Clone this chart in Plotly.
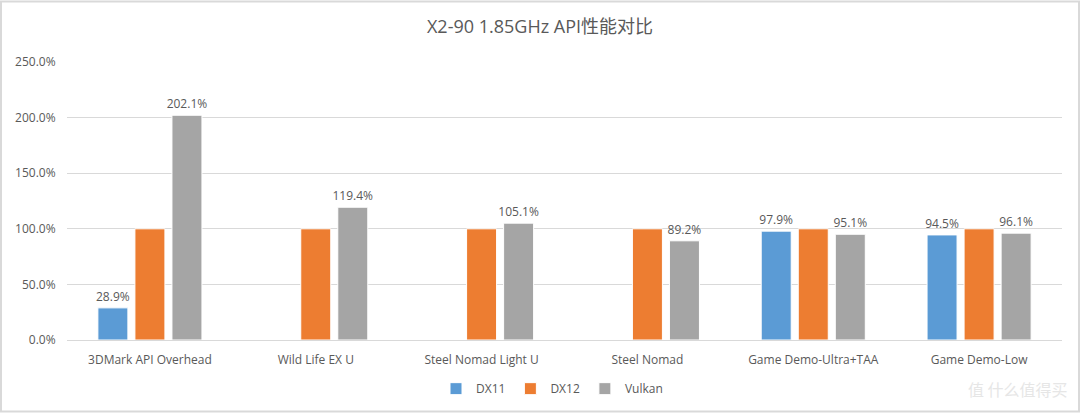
import plotly.graph_objects as go

categories = ["3DMark API Overhead", "Wild Life EX U", "Steel Nomad Light U",
              "Steel Nomad", "Game Demo-Ultra+TAA", "Game Demo-Low"]
dx11 = [28.9, None, None, None, 97.9, 94.5]
dx12 = [100.0, 100.0, 100.0, 100.0, 100.0, 100.0]
vulkan = [202.1, 119.4, 105.1, 89.2, 95.1, 96.1]
y_ticks = [0, 50, 100, 150, 200, 250]
y_tick_labels = ["0.0%", "50.0%", "100.0%", "150.0%", "200.0%", "250.0%"]

W, H = 1080, 415
ML, MR, MT, MB = 67, 18, 62, 73
PW, PH = W - ML - MR, H - MT - MB

FONT = "Open Sans"
TXT = "#595959"

def labels(vals, show=True):
    return [("" if (v is None or not show) else f"{v:.1f}%") for v in vals]

fig = go.Figure()
for name, vals, color, show in [("DX11", dx11, "#5B9BD5", True),
                                ("DX12", dx12, "#ED7D31", False),
                                ("Vulkan", vulkan, "#A5A5A5", True)]:
    fig.add_trace(go.Bar(name=name, x=categories, y=vals, marker_color=color,
                         marker_line=dict(color="white", width=1),
                         text=labels(vals, show), textposition="outside",
                         cliponaxis=False, constraintext="none",
                         textfont=dict(size=12, color=TXT, family=FONT)))

fig.update_layout(
    width=W, height=H,
    margin=dict(l=ML, r=MR, t=MT, b=MB),
    paper_bgcolor="white", plot_bgcolor="white",
    barmode="group", bargap=0.33, bargroupgap=0.19,
    font=dict(family=FONT, color=TXT, size=12),
    title=dict(text="X2-90 1.85GHz API性能对比", x=0.5, xanchor="center",
               y=1 - 27 / H, yanchor="middle",
               font=dict(size=18, color=TXT, family="Open Sans, Noto Sans CJK SC")),
    legend=dict(orientation="h", x=(552 - ML) / PW, xanchor="center",
                y=-(391 - MT - PH) / PH,
                yanchor="middle", font=dict(size=12, color=TXT), itemwidth=30,
                traceorder="normal"),
    xaxis=dict(showline=True, linecolor="#d9d9d9", ticks="outside", ticklen=9,
               tickcolor="rgba(0,0,0,0)", tickfont=dict(size=12, color=TXT)),
    yaxis=dict(range=[0, 250], tickvals=y_ticks, ticktext=y_tick_labels,
               showgrid=True, gridcolor="#d9d9d9", zeroline=False,
               tickfont=dict(size=12, color=TXT), ticks="outside",
               ticklen=8, tickcolor="rgba(0,0,0,0)"),
    shapes=[dict(type="rect", xref="paper", yref="paper",
                 x0=-(ML - 1) / PW, x1=1 + (MR - 1) / PW,
                 y0=-(MB - 1) / PH, y1=1 + (MT - 1) / PH,
                 line=dict(color="#d9d9d9", width=2))],
    annotations=[dict(text="值 什么值得买", xref="paper", yref="paper",
                      x=1 + (MR - 10) / PW, xanchor="right",
                      y=-(391 - MT - PH) / PH, yanchor="middle", showarrow=False,
                      font=dict(size=16, color="#e6e6e6", family="Noto Sans CJK SC"))],
)

fig.write_html("out.html")
